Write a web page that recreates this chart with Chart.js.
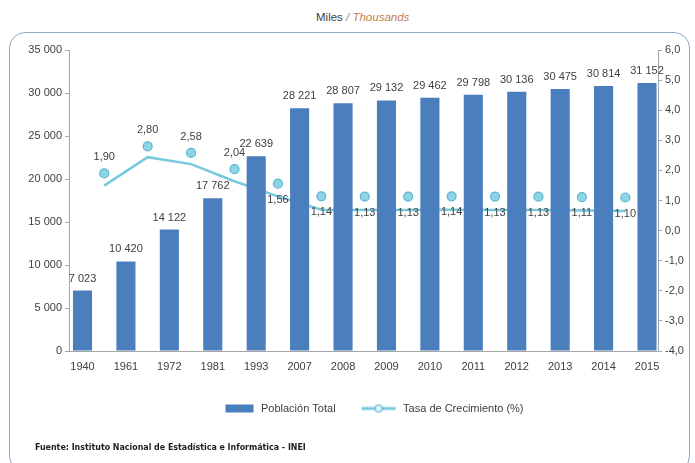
<!DOCTYPE html>
<html>
<head>
<meta charset="utf-8">
<script src="https://cdn.jsdelivr.net/npm/chart.js@4.4.0/dist/chart.umd.min.js"></script>
<style>
  body { margin: 0; background: #fff; }
  #wrap { position: relative; width: 695px; height: 463px; overflow: hidden;
          font-family: 'Liberation Sans', Arial, sans-serif; }
  #titulo { position: absolute; left: 316px; top: 11px; font-size: 11.5px; color: #404040; }
  #titulo i { color: #c27c52; }
  #titulo .barra { color: #8a8a8a; font-style: italic; }
  #marco { position: absolute; left: 9px; top: 32px; width: 681px; height: 440px;
           border: 1.5px solid #8ea8c6; border-radius: 16px; box-sizing: border-box; }
  #fuente { position: absolute; left: 35px; top: 442px; font-size: 8.8px; font-weight: bold; color: #1e1e1e;
            font-family: 'DejaVu Sans Condensed', 'Liberation Sans', sans-serif; }
  canvas { position: absolute; left: 0; top: 0; }
</style>
</head>
<body>
<div id="wrap">
  <div id="titulo">Miles <span class="barra">/</span> <i>Thousands</i></div>
  <div id="marco"></div>
  <canvas id="grafico" width="695" height="463"></canvas>
  <div id="fuente">Fuente: Instituto Nacional de Estadística e Informática - INEI</div>
</div>
<script>
// años censales y proyecciones
const anios = ['1940', '1961', '1972', '1981', '1993', '2007', '2008', '2009', '2010', '2011', '2012', '2013', '2014', '2015'];
// población total en miles
const poblacion = [7023, 10420, 14122, 17762, 22639, 28221, 28807, 29132, 29462, 29798, 30136, 30475, 30814, 31152];
// tasa de crecimiento (%) entre un año y el siguiente
const tasa = [1.90, 2.80, 2.58, 2.04, 1.56, 1.14, 1.13, 1.13, 1.14, 1.13, 1.13, 1.11, 1.10];

const fuente = "'Liberation Sans', Arial, sans-serif";
const azul = '#4a7ebd';
const cian = '#78c9de';
const gris = '#a6a6a6';
const texto = '#404040';

function miles(v) {
    return String(v).replace(/\B(?=(\d{3})+(?!\d))/g, ' ');
}
function coma(v, dec) {
    return v.toFixed(dec).replace('.', ',');
}

// muestras de la leyenda
function muestra(w, dibujo) {
    let c = document.createElement('canvas');
    c.width = w;
    c.height = 12;
    dibujo(c.getContext('2d'));
    return c;
}
const muestraBarra = muestra(52, g => {
    g.fillStyle = azul;
    g.fillRect(22, 2, 28, 8);
});
const muestraLinea = muestra(52, g => {
    g.strokeStyle = cian;
    g.lineWidth = 3;
    g.beginPath();
    g.moveTo(16, 6);
    g.lineTo(50, 6);
    g.stroke();
    g.beginPath();
    g.arc(33, 6, 3.5, 0, Math.PI * 2);
    g.fillStyle = '#dff3f8';
    g.fill();
    g.lineWidth = 1.2;
    g.strokeStyle = '#5ab6d0';
    g.stroke();
});

// valores sobre las barras y junto a los puntos
const etiquetas = {
    id: 'etiquetas',
    afterDatasetsDraw(chart) {
        let ctx = chart.ctx;
        ctx.save();
        ctx.font = '11px ' + fuente;
        ctx.fillStyle = texto;
        ctx.textAlign = 'center';
        ctx.textBaseline = 'middle';
        chart.getDatasetMeta(0).data.forEach((bar, i) => {
            ctx.fillText(miles(poblacion[i]), bar.x, bar.y - 12);
        });
        chart.getDatasetMeta(2).data.forEach((pt, i) => {
            let dy = tasa[i] > 1.8 ? -16 : 16;
            ctx.fillText(coma(tasa[i], 2), pt.x, pt.y + dy);
        });
        ctx.restore();
    }
};

const ejeY = {
    drawOnChartArea: false,
    drawTicks: true,
    tickLength: 4,
    color: gris
};

new Chart(document.getElementById('grafico'), {
    type: 'bar',
    data: {
        datasets: [
            {
                type: 'bar',
                label: 'Población Total',
                data: poblacion.map((v, i) => ({x: i, y: v})),
                backgroundColor: azul,
                barPercentage: 0.44,
                categoryPercentage: 1,
                yAxisID: 'y',
                order: 2
            },
            {
                // trazo de la tasa
                type: 'line',
                label: 'Tasa de Crecimiento (%)',
                data: tasa.map((v, i) => ({x: i + 0.5, y: v})),
                borderColor: cian,
                borderWidth: 2.5,
                pointRadius: 0,
                tension: 0,
                yAxisID: 'yLinea',
                order: 3
            },
            {
                // marcadores de la tasa
                type: 'line',
                label: 'Tasa de Crecimiento (%)',
                data: tasa.map((v, i) => ({x: i + 0.5, y: v})),
                showLine: false,
                pointRadius: 4.5,
                pointBackgroundColor: '#8fd4e6',
                pointBorderColor: '#5ab6d0',
                pointBorderWidth: 1.2,
                yAxisID: 'y2',
                order: 1
            }
        ]
    },
    options: {
        responsive: false,
        animation: false,
        events: [],
        layout: {padding: {top: 50, bottom: 39, left: 0, right: 0}},
        plugins: {
            tooltip: {enabled: false},
            legend: {
                position: 'bottom',
                fullSize: false,
                labels: {
                    usePointStyle: true,
                    pointStyleWidth: 52,
                    boxHeight: 12,
                    padding: 10,
                    color: texto,
                    font: {size: 11, family: fuente},
                    generateLabels: () => [
                        {text: 'Población Total', pointStyle: muestraBarra, fontColor: texto, lineWidth: 0, datasetIndex: 0},
                        {text: 'Tasa de Crecimiento (%)', pointStyle: muestraLinea, fontColor: texto, lineWidth: 0, datasetIndex: 2}
                    ]
                }
            }
        },
        scales: {
            x: {
                type: 'linear',
                offset: false,
                min: -0.311,
                max: 13.253,
                grid: {display: true, drawOnChartArea: false, drawTicks: false, color: gris},
                border: {color: gris},
                ticks: {
                    stepSize: 1,
                    includeBounds: false,
                    autoSkip: false,
                    maxRotation: 0,
                    padding: 9,
                    color: texto,
                    font: {size: 11, family: fuente},
                    callback: v => anios[v] ?? ''
                },
                afterFit: s => { s.height = 42; }
            },
            y: {
                position: 'left',
                min: 0,
                max: 35000,
                grid: ejeY,
                border: {color: gris},
                ticks: {stepSize: 5000, padding: 3, color: texto, font: {size: 11, family: fuente}, callback: v => miles(v)},
                afterFit: s => { s.width = 69; }
            },
            y2: {
                position: 'right',
                min: -4,
                max: 6,
                grid: ejeY,
                border: {color: gris},
                ticks: {stepSize: 1, padding: 3, color: texto, font: {size: 11, family: fuente}, callback: v => coma(v, 1)},
                afterFit: s => { s.width = 37; }
            },
            yLinea: {
                display: false,
                min: -3.33,
                max: 6.19
            }
        }
    },
    plugins: [etiquetas]
});
</script>
</body>
</html>
